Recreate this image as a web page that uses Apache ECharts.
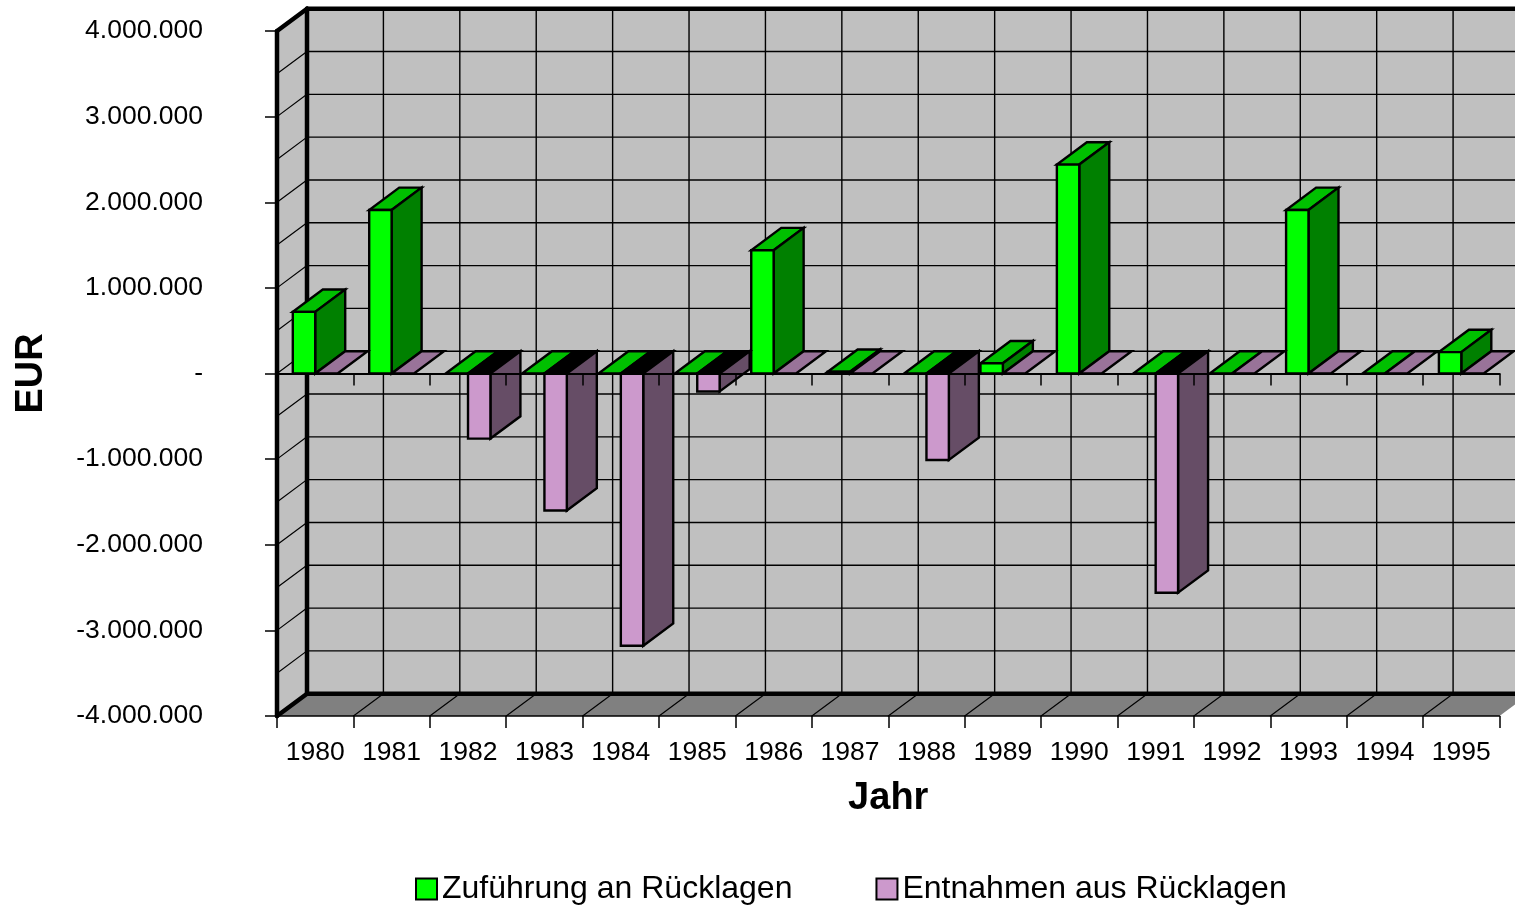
<!DOCTYPE html>
<html>
<head>
<meta charset="utf-8">
<style>html,body{margin:0;padding:0;background:#fff}#c{width:1515px;height:912px}</style>
<script src="https://cdn.jsdelivr.net/npm/echarts@6/dist/echarts.min.js"></script>
</head>
<body>
<div id="c"></div>
<script>
const categories = ['1980','1981','1982','1983','1984','1985','1986','1987','1988','1989','1990','1991','1992','1993','1994','1995'];
const zufuehrung = [720000,1910000,0,0,0,0,1440000,20000,0,120000,2440000,0,0,1910000,0,250000];
const entnahmen = [0,0,-760000,-1600000,-3180000,-210000,0,0,-1010000,0,0,-2560000,0,0,0,0];
const gridLevels = [-3500000,-3000000,-2500000,-2000000,-1500000,-1000000,-500000,0,500000,1000000,1500000,2000000,2500000,3000000,3500000];
const seriesNames = ['Zuführung an Rücklagen','Entnahmen aus Rücklagen'];
const FONT = '"Liberation Sans", Arial, sans-serif';
const DX = 30, DY = -22.3, BAR = 22.4;

function poly(points, fill, lw, z2) {
  return {type:'polygon', z2:z2||0, shape:{points}, style:{fill, stroke:'#000', lineWidth:lw===undefined?2.4:lw, lineJoin:'miter'}};
}
function seg(x1,y1,x2,y2,w,z2){
  return {type:'line', z2:z2||0, shape:{x1,y1,x2,y2}, style:{stroke:'#000', lineWidth:w, lineCap:'round'}};
}
function renderWalls(params, api) {
  const cs = params.coordSys;
  const L = cs.x, R = cs.x + cs.width;
  const T = api.coord([0, 4000000])[1], B = api.coord([0, -4000000])[1];
  const cw = api.size([1,0])[0];
  const ch = [];
  ch.push({type:'polygon', shape:{points:[[L+DX,T+DY],[R+DX,T+DY],[R+DX,B+DY],[L+DX,B+DY]]}, style:{fill:'#c0c0c0'}});
  ch.push({type:'polygon', shape:{points:[[L,T],[L+DX,T+DY],[L+DX,B+DY],[L,B]]}, style:{fill:'#c0c0c0'}});
  ch.push({type:'polygon', shape:{points:[[L,B],[R,B],[R+DX,B+DY],[L+DX,B+DY]]}, style:{fill:'#808080'}});
  gridLevels.forEach(v => {
    const y = api.coord([0, v])[1];
    ch.push(seg(L, y, L+DX, y+DY, 1.2));
    ch.push(seg(L+DX, y+DY, R+DX, y+DY, 1.4));
  });
  categories.forEach((c, i) => {
    if (i === 0) return;
    const x = api.coord([i, 0])[0] - cw/2;
    ch.push(seg(x, B, x+DX, B+DY, 1.2));
    ch.push(seg(x+DX, T+DY, x+DX, B+DY, 1.4));
  });
  ch.push(seg(L, T, L, B, 4.5));
  ch.push(seg(L+DX, T+DY, L+DX, B+DY, 4.5));
  ch.push(seg(L, T, L+DX, T+DY, 4.5));
  ch.push(seg(L, B, L+DX, B+DY, 4.5));
  ch.push(seg(L+DX, T+DY, R+DX, T+DY, 4.5));
  ch.push(seg(L+DX, B+DY, R+DX, B+DY, 4.5));
  return {type:'group', children: ch};
}
function barRenderer(front, top, side, offset) {
  return function (params, api) {
    const v = api.value(1);
    const c = api.coord([api.value(0), 0]);
    const y0 = c[1];
    const yv = api.coord([api.value(0), v])[1];
    const x0 = c[0] + offset, x1 = x0 + BAR;
    const upper = Math.min(y0, yv);
    const lower = Math.max(y0, yv);
    const ch = [];
    ch.push(poly([[x0,upper],[x1,upper],[x1+DX,upper+DY],[x0+DX,upper+DY]], v < 0 ? '#000' : top));
    if (lower - upper > 0.5) {
      ch.push(poly([[x1,upper],[x1+DX,upper+DY],[x1+DX,lower+DY],[x1,lower]], side));
      ch.push(poly([[x0,upper],[x1,upper],[x1,lower],[x0,lower]], front));
    }
    return {type:'group', children: ch};
  };
}
const chart = echarts.init(document.getElementById('c'), null, {renderer:'canvas'});
const axisLabelStyle = {color:'#000', fontFamily:FONT, fontSize:26.5};
chart.setOption({
  animation:false,
  backgroundColor:'#fff',
  grid:{left:277, right:15.5, top:31, bottom:196, containLabel:false, outerBoundsMode:'none'},
  legend:{
    left:415, top:873, padding:0, itemWidth:21, itemHeight:21, itemGap:83, icon:'rect',
    textStyle:{color:'#000', fontFamily:FONT, fontSize:32},
    selectedMode:false,
    data:[
      {name:seriesNames[0], icon:'rect', itemStyle:{color:'#00ff00', borderColor:'#000', borderWidth:2}},
      {name:seriesNames[1], icon:'rect', itemStyle:{color:'#cc99cc', borderColor:'#000', borderWidth:2}}
    ]
  },
  xAxis:[
    {type:'category', data:categories, position:'bottom', z:10,
     axisLine:{onZero:false, lineStyle:{color:'#000', width:1.5}},
     axisTick:{show:true, length:12, alignWithLabel:false, lineStyle:{color:'#000', width:1.5}},
     axisLabel:Object.assign({margin:23, interval:0}, axisLabelStyle),
     splitLine:{show:false},
     name:'Jahr', nameLocation:'middle', nameGap:64,
     nameTextStyle:{color:'#000', fontFamily:FONT, fontSize:38, fontWeight:'bold'}},
    {type:'category', data:categories, position:'bottom', z:10,
     axisLine:{onZero:true, lineStyle:{color:'#000', width:2}},
     axisTick:{show:true, length:12, lineStyle:{color:'#000', width:1.5}},
     axisLabel:{show:false}, splitLine:{show:false}}
  ],
  yAxis:{type:'value', min:-4000000, max:4000000, interval:1000000, z:10,
     axisLine:{show:false, onZero:false},
     axisTick:{show:true, length:12, lineStyle:{color:'#000', width:1.5}},
     splitLine:{show:false},
     axisLabel:Object.assign({margin:74, padding:[2,0,0,0], formatter:v => v === 0 ? '-' : String(v).replace(/\B(?=(\d{3})+(?!\d))/g,'.')}, axisLabelStyle),
     name:'EUR', nameLocation:'middle', nameGap:226, nameRotate:90,
     nameTextStyle:{color:'#000', fontFamily:FONT, fontSize:38, fontWeight:'bold'}},
  series:[
    {type:'custom', name:'Wände', z:1, silent:true, renderItem:renderWalls, data:[[0,0]], encode:{x:0,y:1}, clip:false},
    {type:'custom', name:seriesNames[0], z:3, silent:true, itemStyle:{color:'#00ff00'}, clip:false,
     renderItem:barRenderer('#00ff00','#00c000','#008000',-BAR), encode:{x:0,y:1},
     data:zufuehrung.map((v,i)=>[i,v])},
    {type:'custom', name:seriesNames[1], z:3, silent:true, itemStyle:{color:'#cc99cc'}, clip:false,
     renderItem:barRenderer('#cc99cc','#997399','#664d66',0), encode:{x:0,y:1},
     data:entnahmen.map((v,i)=>[i,v])}
  ]
});
</script>
</body>
</html>
